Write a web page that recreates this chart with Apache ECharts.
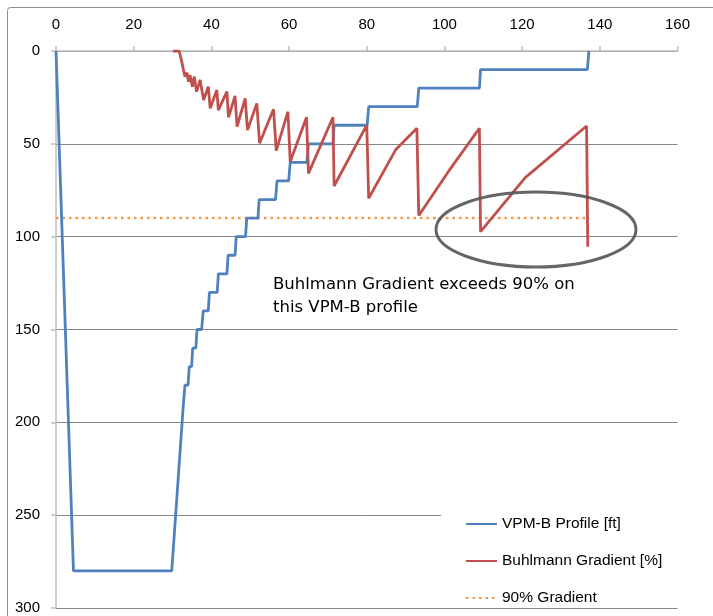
<!DOCTYPE html>
<html>
<head>
<meta charset="utf-8">
<script src="https://cdn.jsdelivr.net/npm/echarts@6/dist/echarts.min.js"></script>
<style>
html,body{margin:0;padding:0;background:#fff;}
#chart{width:713px;height:616px;}
</style>
</head>
<body>
<div id="chart"></div>
<script>
// ---- data ----
const xTicks = [0, 20, 40, 60, 80, 100, 120, 140, 160];
const yTicks = [0, 50, 100, 150, 200, 250, 300];

const vpmTime  = [0, 4.5, 29.8, 32.8, 32.9, 33.2, 34.0, 34.3, 34.9, 35.2, 36.0, 36.3, 37.5, 37.9, 39.2, 39.5, 41.5, 41.8, 44.0, 44.3, 46.1, 46.4, 48.8, 49.1, 52.0, 52.3, 56.5, 56.9, 59.9, 60.3, 64.6, 65.0, 71.3, 71.6, 80.1, 80.5, 93.0, 93.4, 109.0, 109.3, 136.8, 137.2];
const vpmDepth = [0, 280, 280, 190, 190, 180, 180, 170, 170, 160, 160, 150, 150, 140, 140, 130, 130, 120, 120, 110, 110, 100, 100, 90, 90, 80, 80, 70, 70, 60, 60, 50, 50, 40, 40, 30, 30, 20, 20, 10, 10, 0];

const gfTime  = [30.1, 31.7, 32.4, 32.8, 33.2, 33.7, 34.1, 34.5, 35.1, 35.6, 36.2, 37.1, 38.0, 39.2, 39.7, 41.4, 41.8, 44.0, 44.4, 46.1, 46.6, 48.7, 49.3, 51.7, 52.4, 56.0, 56.7, 59.7, 60.3, 64.5, 65.0, 71.3, 71.6, 80.0, 80.5, 87.5, 92.9, 93.4, 101.0, 109.0, 109.3, 120.8, 136.6, 136.9];
const gfValue = [0, 0, 6, 10, 13.8, 11.7, 16.5, 12.9, 19.2, 13.8, 21.9, 15.6, 26.4, 19.2, 30.9, 21.0, 31.8, 21.9, 35.7, 24.2, 40.8, 25.5, 42.6, 28.2, 49.7, 31.4, 53.7, 32.7, 59.6, 35.7, 65.9, 35.7, 72.7, 39.9, 79.3, 53.0, 41.6, 88.6, 65.0, 41.6, 97.3, 68.2, 40.4, 105.4];

const limitTime  = [0, 136.5];
const limitValue = [90, 90];

const seriesNames = ['VPM-B Profile [ft]', 'Buhlmann Gradient [%]', '90% Gradient'];
const noteLines = ['Buhlmann Gradient exceeds 90% on', 'this VPM-B profile'];

const zip = (a, b) => a.map((v, i) => [v, b[i]]);

const chart = echarts.init(document.getElementById('chart'), null, {renderer: 'canvas'});
const labelFont = {fontFamily: 'Liberation Sans', fontSize: 15, color: '#000'};

chart.setOption({
  animation: false,
  backgroundColor: '#fff',
  grid: {left: 56, top: 51, right: 35.5, bottom: 8, containLabel: false},
  xAxis: {
    type: 'value', position: 'top', min: 0, max: 160, interval: 20,
    axisLine: {show: true, lineStyle: {color: '#BFBFBF', width: 1.5}},
    axisTick: {show: true, inside: false, length: 5, lineStyle: {color: '#BFBFBF', width: 1.5}},
    axisLabel: Object.assign({margin: 19, formatter: v => xTicks.includes(v) ? String(v) : ''}, labelFont),
    splitLine: {show: false}
  },
  yAxis: {
    type: 'value', inverse: true, min: 0, max: 300, interval: 50,
    axisLine: {show: true, lineStyle: {color: '#BFBFBF', width: 1.5}},
    axisTick: {show: true, length: 5, lineStyle: {color: '#BFBFBF', width: 1.5}},
    axisLabel: Object.assign({margin: 16, formatter: v => yTicks.includes(v) ? String(v) : ''}, labelFont),
    splitLine: {show: true, lineStyle: {color: '#868686', width: 1}}
  },
  legend: {
    orient: 'vertical', left: 441, top: 502,
    padding: [14, 30, 0, 24],
    backgroundColor: '#fff',
    itemWidth: 31, itemHeight: 14, itemGap: 21,
    itemStyle: {opacity: 0},
    textStyle: {fontFamily: 'Liberation Sans', fontSize: 15.5, color: '#000'},
    data: seriesNames
  },
  series: [
    {
      name: seriesNames[0], type: 'line', data: zip(vpmTime, vpmDepth),
      symbol: 'none', lineStyle: {color: '#4F81BD', width: 2.8}, itemStyle: {color: '#4F81BD'}, z: 3
    },
    {
      name: seriesNames[1], type: 'line', data: zip(gfTime, gfValue),
      symbol: 'none', lineStyle: {color: '#C0504D', width: 2.8}, itemStyle: {color: '#C0504D'}, z: 4
    },
    {
      name: seriesNames[2], type: 'line', data: zip(limitTime, limitValue),
      symbol: 'none', lineStyle: {color: '#F79646', width: 2.5, type: [2.5, 4]}, itemStyle: {color: '#F79646'}, z: 2
    }
  ],
  graphic: [
    {type: 'rect', left: 5, top: 5, shape: {width: 740, height: 640, r: 3}, style: {fill: 'none', stroke: '#8C8C8C', lineWidth: 1}, silent: true, z: 100},
    {type: 'ellipse', shape: {cx: 536, cy: 229.5, rx: 100, ry: 37.5}, style: {fill: 'none', stroke: '#555555', lineWidth: 3, opacity: 0.9}, z: 100},
    {type: 'text', left: 273, top: 273, style: {text: noteLines.join('\n'), fontFamily: 'DejaVu Sans', fontSize: 16.5, fill: '#000', lineHeight: 23}, z: 100}
  ]
});
</script>
</body>
</html>
